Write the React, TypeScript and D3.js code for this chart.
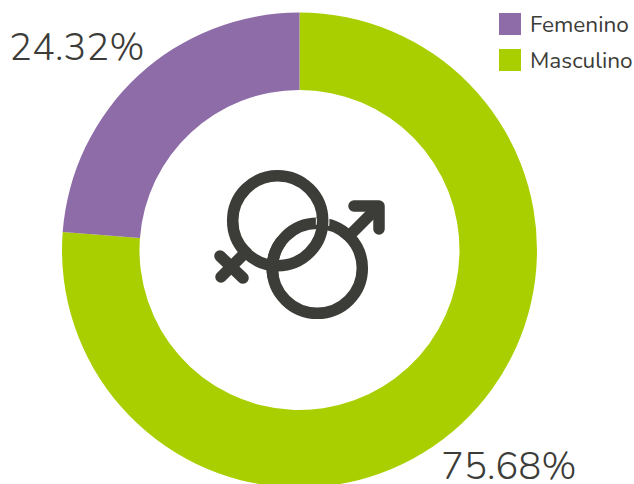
import React from "react";
import * as d3 from "d3";

const labels = ["Masculino", "Femenino"];
const values = [76.2, 23.8];
const colors = ["#A9CF00", "#8E6CA8"];
const legendOrder = ["Femenino", "Masculino"];
const valueText = ["75.68%", "24.32%"];
const INK = "#3C3C38";
const FONT = "Nunito, Lato, 'Open Sans', sans-serif";

export default function App() {
  const cx = 299.5, cy = 250, outer = 237.5, inner = 160;
  const pie = d3.pie<number>().sort(null);
  const arcs = pie(values);
  const arc = d3.arc<d3.PieArcDatum<number>>().innerRadius(inner).outerRadius(outer);
  const color = d3.scaleOrdinal<string, string>().domain(labels).range(colors);
  const legendY = d3.scalePoint<string>().domain(legendOrder).range([24, 60]);
  const sw = 11.5;
  const r = 45;
  const fx = 277.7, fy = 220.7, mx = 317.3, my = 268.3;
  const polar = (x: number, y: number, deg: number) => {
    const t = (deg * Math.PI) / 180;
    return `${x + r * Math.cos(t)} ${y + r * Math.sin(t)}`;
  };
  return (
    <svg width={634} height={484} style={{ position: "fixed", left: 0, top: 0, background: "#fff" }}>
      <g transform={`translate(${cx},${cy})`}>
        {arcs.map((a, i) => (
          <path key={labels[i]} d={arc(a) ?? ""} fill={color(labels[i])} />
        ))}
      </g>
      <text x={9} y={60} fontFamily={FONT} fontWeight={300} fontSize={38.3} fill={INK}>{valueText[1]}</text>
      <text x={441} y={478.5} fontFamily={FONT} fontWeight={300} fontSize={38.3} fill={INK}>{valueText[0]}</text>
      {legendOrder.map((l) => (
        <g key={l}>
          <rect x={499} y={legendY(l)! - 11} width={22} height={22} fill={color(l)} />
          <text x={530} y={legendY(l)! + 8} fontFamily={FONT} fontSize={22.6} fill={INK}>{l}</text>
        </g>
      ))}
      <g fill="none" stroke={INK} strokeWidth={sw} strokeLinecap="round" strokeLinejoin="round">
        <circle cx={mx} cy={my} r={r} />
        <line x1={349} y1={236} x2={376} y2={209} />
        <path d="M 354 206 L 379 206 L 379 229" />
        <path d={`M ${polar(fx, fy, -4)} A ${r} ${r} 0 0 1 ${polar(fx, fy, 6)}`} stroke="#fff" strokeWidth={sw + 2} strokeLinecap="butt" />
        <circle cx={fx} cy={fy} r={r} />
        <line x1={246} y1={252} x2={221} y2={277} />
        <line x1={220} y1={256} x2={243} y2={278} />
        <path d={`M ${polar(mx, my, 170)} A ${r} ${r} 0 0 1 ${polar(mx, my, 215)}`} />
      </g>
    </svg>
  );
}
